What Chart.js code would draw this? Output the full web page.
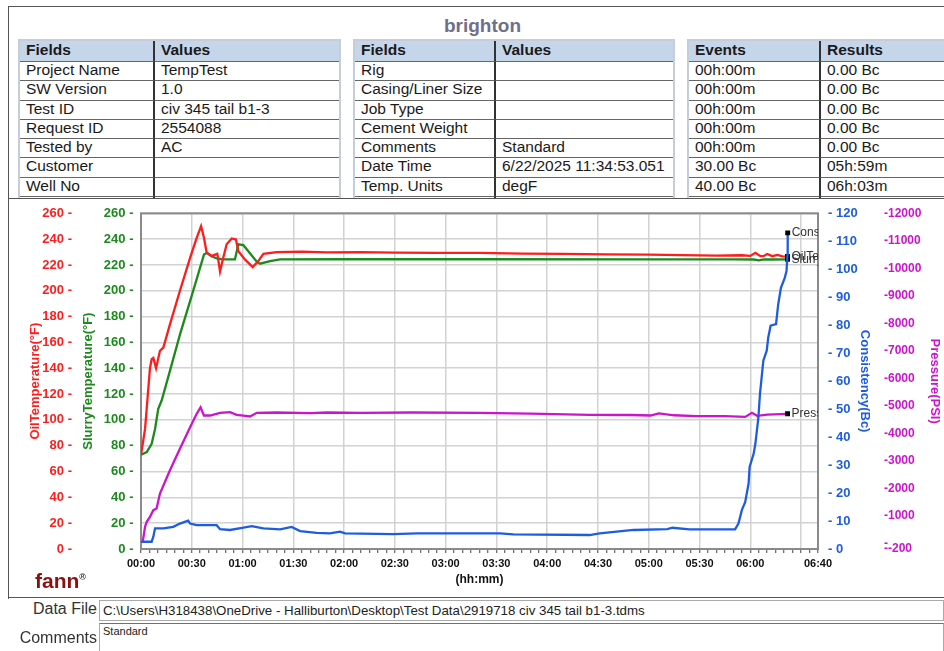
<!DOCTYPE html>
<html>
<head>
<meta charset="utf-8">
<script src="https://cdn.jsdelivr.net/npm/chart.js@4.4.1/dist/chart.umd.min.js"></script>
<style>
  body { margin:0; width:944px; height:651px; overflow:hidden; background:#fff; position:relative; font-family:"Liberation Sans", Arial, sans-serif; }
  #frame { position:absolute; left:8px; top:6px; width:940px; height:592px; border-top:1px solid #555; border-left:1px solid #555; }
  #titulo { position:absolute; left:0; width:965px; top:15px; text-align:center; font-weight:bold; font-size:19px; color:#6f6f8c; }
  .tab { position:absolute; top:39px; display:grid; border:2px solid #c6cdd8; box-sizing:border-box; height:175px; overflow:hidden; font-size:15.5px; color:#1a1a1a; }
  .tab div { border-bottom:1px solid #666; box-sizing:border-box; padding-left:6px; white-space:nowrap; overflow:hidden; line-height:16px; }
  .tab div.h { background:#c5d5ea; font-weight:bold; line-height:18px; }
  .tab div.c1 { border-right:2px solid #333; }
  #painel { position:absolute; left:9px; top:198px; width:935px; height:400px; background:#fff; border-top:1px solid #555; border-bottom:1px solid #555; box-sizing:border-box; }
  #graf { position:absolute; left:9px; top:198px; width:935px; height:399px; }
  #fann { position:absolute; left:35px; top:569px; font-weight:bold; font-size:21px; color:#8b1111; }
  #fann sup { font-size:9px; color:#333; }
  .lbl { position:absolute; left:0; width:97px; text-align:right; font-size:16px; color:#333; }
  .caixa { position:absolute; left:99px; width:845px; border:1px solid #aaa; box-sizing:border-box; padding-left:3px; color:#222; }
</style>
</head>
<body>
<div id="frame"></div>
<div id="titulo">brighton</div>
<div class="tab" id="t1" style="left:18px; width:323px; grid-template-columns:135px 1fr; grid-template-rows:21px repeat(8, 19.3px);"></div>
<div class="tab" id="t2" style="left:353px; width:322px; grid-template-columns:141px 1fr; grid-template-rows:21px repeat(8, 19.3px);"></div>
<div class="tab" id="t3" style="left:687px; width:262px; grid-template-columns:132px 1fr; grid-template-rows:21px repeat(8, 19.3px);"></div>
<div id="painel"></div>
<div id="graf"><canvas id="grafico"></canvas></div>
<div id="fann">fann<sup>®</sup></div>
<div class="lbl" style="top:600px;">Data File</div>
<div class="caixa" style="top:600px; height:21px; font-size:13.3px; line-height:19px;">C:\Users\H318438\OneDrive - Halliburton\Desktop\Test Data\2919718 civ 345 tail b1-3.tdms</div>
<div class="lbl" style="top:629px;">Comments</div>
<div class="caixa" style="top:623px; height:30px; font-size:11px; line-height:14px; border-top:1px solid #2f7de1;">Standard</div>

<script>
// tabelas do cabeçalho
const tabela1 = [["Fields", "Values"], ["Project Name", "TempTest"], ["SW Version", "1.0"], ["Test ID", "civ 345 tail b1-3"], ["Request ID", "2554088"], ["Tested by", "AC"], ["Customer", ""], ["Well No", ""], ["", ""]];
const tabela2 = [["Fields", "Values"], ["Rig", ""], ["Casing/Liner Size", ""], ["Job Type", ""], ["Cement Weight", ""], ["Comments", "Standard"], ["Date Time", "6/22/2025 11:34:53.051"], ["Temp. Units", "degF"], ["", ""]];
const tabela3 = [["Events", "Results"], ["00h:00m", "0.00 Bc"], ["00h:00m", "0.00 Bc"], ["00h:00m", "0.00 Bc"], ["00h:00m", "0.00 Bc"], ["00h:00m", "0.00 Bc"], ["30.00 Bc", "05h:59m"], ["40.00 Bc", "06h:03m"], ["", ""]];

// dados do ensaio (tempo em minutos)
const oilTime = [0, 2.4, 5.3, 6.3, 7.3, 8.9, 11.2, 13.2, 17.1, 23, 29, 32.9, 35.5, 37.2, 38.8, 41.8, 45.1, 46.7, 48.3, 50.6, 53.6, 56.1, 57.5, 61.4, 66, 69.3, 72.3, 80.2, 95, 110, 130, 150, 175, 200, 225, 250, 275, 300, 320, 340, 355, 360, 363, 366, 368, 370, 373, 376, 379, 382];
const oilTemp = [73, 93, 140, 147, 148, 140, 153.5, 156, 174, 200, 225.5, 241, 250, 241, 229.4, 227, 228.6, 215, 224, 236, 240.5, 239.7, 230.7, 224.3, 218.4, 223, 228.6, 230, 230.3, 229.8, 230, 229.6, 229.4, 229.3, 228.8, 228.5, 228.2, 228, 227.6, 227.2, 227.5, 227, 229.4, 226.8, 227, 228.5, 226.8, 227.8, 226.6, 226.5];

const slurryTime = [0, 3.4, 6.3, 8.3, 10.2, 12.2, 17.1, 23, 29, 32.9, 37.2, 39.1, 41.4, 44.7, 48.6, 55.5, 57.5, 60.5, 68.4, 70.3, 76.3, 82.2, 120, 200, 300, 350, 362, 365, 368, 372, 382];
const slurryTemp = [73, 75, 81.5, 93, 108.5, 115, 138, 166, 192, 209, 228, 229.4, 227, 225, 224.3, 224.3, 235.9, 235.3, 222.5, 221, 223, 224.3, 224.4, 224.4, 224.3, 224.3, 224.2, 223.5, 224.3, 224.2, 224.3];

const pressTime = [1, 2.4, 3.4, 5.3, 7.3, 9.2, 11.2, 17.1, 23, 29, 32.9, 35.2, 37.2, 40.8, 46.7, 52.6, 56.5, 60.5, 64.4, 68.4, 80, 100, 110, 130, 160, 200, 230, 265, 290, 301, 306, 315, 328, 345, 357, 361, 364, 370, 382];
const pressure = [50, 607, 788, 970, 1212, 1273, 1817, 2660, 3446, 4228, 4713, 4952, 4651, 4651, 4749, 4771, 4677, 4651, 4615, 4749, 4760, 4740, 4760, 4749, 4760, 4749, 4720, 4677, 4670, 4651, 4730, 4660, 4626, 4626, 4600, 4749, 4640, 4680, 4713];

const consTime = [0, 6.3, 7.3, 8.3, 13.2, 19.1, 23, 27.9, 29, 32.9, 44.7, 46.7, 52.6, 60.5, 65.4, 72.3, 82.2, 89, 94, 103.8, 111.6, 117.6, 120.6, 149, 163, 212, 220, 265, 271, 291, 311, 314, 324, 351, 353, 355, 357, 359, 359.6, 362, 363, 364.8, 365.7, 367.7, 369.7, 370.6, 372, 375.2, 376.5, 378.1, 380.4, 381.4, 382, 382.1];
const consistency = [2.6, 2.6, 4.4, 7.4, 7.4, 7.9, 9.1, 10.1, 9.1, 8.5, 8.5, 7.1, 6.8, 7.6, 8.2, 7.4, 7.0, 7.9, 6.4, 5.8, 5.6, 6.2, 5.6, 5.3, 5.6, 5.6, 5.2, 5.0, 5.6, 6.8, 7.1, 7.6, 7.0, 7.0, 9.1, 13.9, 16.8, 23.4, 29.3, 34.1, 37.6, 47.1, 55.4, 67.3, 70.9, 75.6, 79.8, 80.4, 87.5, 93.4, 97, 99.4, 105.3, 113];

const timeLabels = [0, 30, 60, 90, 120, 150, 180, 210, 240, 270, 300, 330, 360, 400];
const pressTicks = [-200, 0, 1000, 2000, 3000, 4000, 5000, 6000, 7000, 8000, 9000, 10000, 11000, 12000];

function montaTabela(id, linhas) {
    const el = document.getElementById(id);
    linhas.forEach((l, i) => {
        l.forEach((txt, j) => {
            const d = document.createElement("div");
            d.textContent = txt;
            if (i === 0) d.className = "h";
            if (j === 0) d.className += " c1";
            el.appendChild(d);
        });
    });
}
montaTabela("t1", tabela1);
montaTabela("t2", tabela2);
montaTabela("t3", tabela3);

const pontos = (xs, ys) => xs.map((x, i) => ({ x: x, y: ys[i] }));
const hhmm = v => String(Math.floor(v / 60)).padStart(2, "0") + ":" + String(v % 60).padStart(2, "0");
const ultimo = ctx => ctx.dataIndex === ctx.dataset.data.length - 1 ? 3.5 : 0;

const FONTE = '"Liberation Sans", Arial, sans-serif';
Chart.defaults.font.family = FONTE;

const moldura = {
    id: "moldura",
    beforeDatasetsDraw(chart) {
        const { ctx, chartArea: a } = chart;
        ctx.save();
        ctx.strokeStyle = "#8a8a8a";
        ctx.lineWidth = 2;
        ctx.strokeRect(a.left, a.top, a.width, a.height);
        ctx.restore();
    }
};

const rotulosFim = {
    id: "rotulosFim",
    afterDatasetsDraw(chart) {
        const { ctx, chartArea: a } = chart;
        ctx.save();
        ctx.beginPath();
        ctx.rect(a.left, a.top, a.width, a.height);
        ctx.clip();
        ctx.font = "12px " + FONTE;
        ctx.fillStyle = "#333";
        ctx.textBaseline = "middle";
        chart.data.datasets.forEach((ds, i) => {
            const pts = chart.getDatasetMeta(i).data;
            const p = pts[pts.length - 1];
            ctx.fillText(ds.label, p.x + 4, p.y);
        });
        ctx.restore();
    }
};

const serie = (label, dados, cor, eixo) => ({
    label: label, data: dados, yAxisID: eixo, borderColor: cor, borderWidth: 2.3,
    pointRadius: ultimo, pointStyle: "rect", pointBackgroundColor: "#000", pointBorderWidth: 0, tension: 0
});

const eixoY = (cor, fonte, extra) => Object.assign({
    type: "linear",
    grid: { display: false },
    border: { display: false },
    ticks: { color: cor, font: { weight: "bold", size: fonte } },
    title: { display: true, color: cor, font: { weight: "bold", size: 13, lineHeight: 1 } }
}, extra);

new Chart(document.getElementById("grafico"), {
    type: "line",
    data: {
        datasets: [
            serie("Consistency", pontos(consTime, consistency), "#1f5de0", "yCons"),
            serie("OilTemperature", pontos(oilTime, oilTemp), "#ff1c1c", "yOil"),
            serie("SlurryTemperature", pontos(slurryTime, slurryTemp), "#1c8a1c", "ySlurry"),
            serie("Pressure", pontos(pressTime, pressure), "#cc14cc", "yPress")
        ]
    },
    options: {
        responsive: true, maintainAspectRatio: false, animation: false,
        layout: { padding: { top: 10, bottom: 8, left: 0, right: 0 } },
        plugins: { legend: { display: false }, tooltip: { enabled: false } },
        scales: {
            x: {
                type: "linear", min: 0, max: 400,
                afterFit: s => { s.height = 40; },
                grid: {
                    color: c => c.tick && c.tick.value % 30 === 0 ? "#d2d2d2" : "rgba(0,0,0,0)",
                    lineWidth: 1.5, tickColor: "#444", tickLength: 4, tickWidth: 1
                },
                border: { display: false },
                ticks: {
                    stepSize: 5, autoSkip: false, maxRotation: 0, padding: 4, color: "#111",
                    font: { weight: "bold", size: 11 },
                    callback: v => timeLabels.includes(v) ? hhmm(v) : ""
                },
                title: { display: true, text: "(hh:mm)", color: "#111", font: { weight: "bold", size: 12 }, padding: { top: 0, bottom: 2 } }
            },
            yOil: eixoY("#ff1c1c", 13, {
                position: "left", weight: 2, min: 0, max: 260,
                afterFit: s => { s.width = 72; },
                ticks: { color: "#ff1c1c", font: { weight: "bold", size: 13 }, stepSize: 20, padding: 1, callback: v => v + " -" },
                title: { display: true, text: "OilTemperature(°F)", color: "#ff1c1c", font: { weight: "bold", size: 13, lineHeight: 1 }, padding: { top: 20, bottom: 0 } }
            }),
            ySlurry: eixoY("#1c8a1c", 13, {
                position: "left", weight: 1, min: 0, max: 260,
                afterFit: s => { s.width = 60; },
                grid: { display: true, drawOnChartArea: true, drawTicks: false, color: "#d2d2d2", lineWidth: 1.5 },
                ticks: { color: "#1c8a1c", font: { weight: "bold", size: 13 }, stepSize: 20, padding: 7.5, callback: v => v + " -" },
                title: { display: true, text: "SlurryTemperature(°F)", color: "#1c8a1c", font: { weight: "bold", size: 13, lineHeight: 1 }, padding: { top: 0.5, bottom: 0 } }
            }),
            yCons: eixoY("#1f5de0", 13, {
                position: "right", weight: 1, min: 0, max: 120,
                afterFit: s => { s.width = 55; },
                ticks: { color: "#1f5de0", font: { weight: "bold", size: 13 }, stepSize: 10, padding: 2, callback: v => "- " + v },
                title: { display: true, text: "Consistency(Bc)", color: "#1f5de0", font: { weight: "bold", size: 13, lineHeight: 1 }, padding: { top: 1.5, bottom: 0 } }
            }),
            yPress: eixoY("#cc14cc", 12, {
                position: "right", weight: 2, min: -200, max: 12000,
                afterFit: s => { s.width = 71; },
                afterBuildTicks: s => { s.ticks = pressTicks.map(v => ({ value: v })); },
                ticks: { color: "#cc14cc", font: { weight: "bold", size: 12 }, padding: 3, callback: v => v === 0 ? "-" : "-" + v },
                title: { display: true, text: "Pressure(PSI)", color: "#cc14cc", font: { weight: "bold", size: 13, lineHeight: 1 }, padding: { top: 2.5, bottom: 0 } }
            })
        }
    },
    plugins: [moldura, rotulosFim]
});
</script>
</body>
</html>
